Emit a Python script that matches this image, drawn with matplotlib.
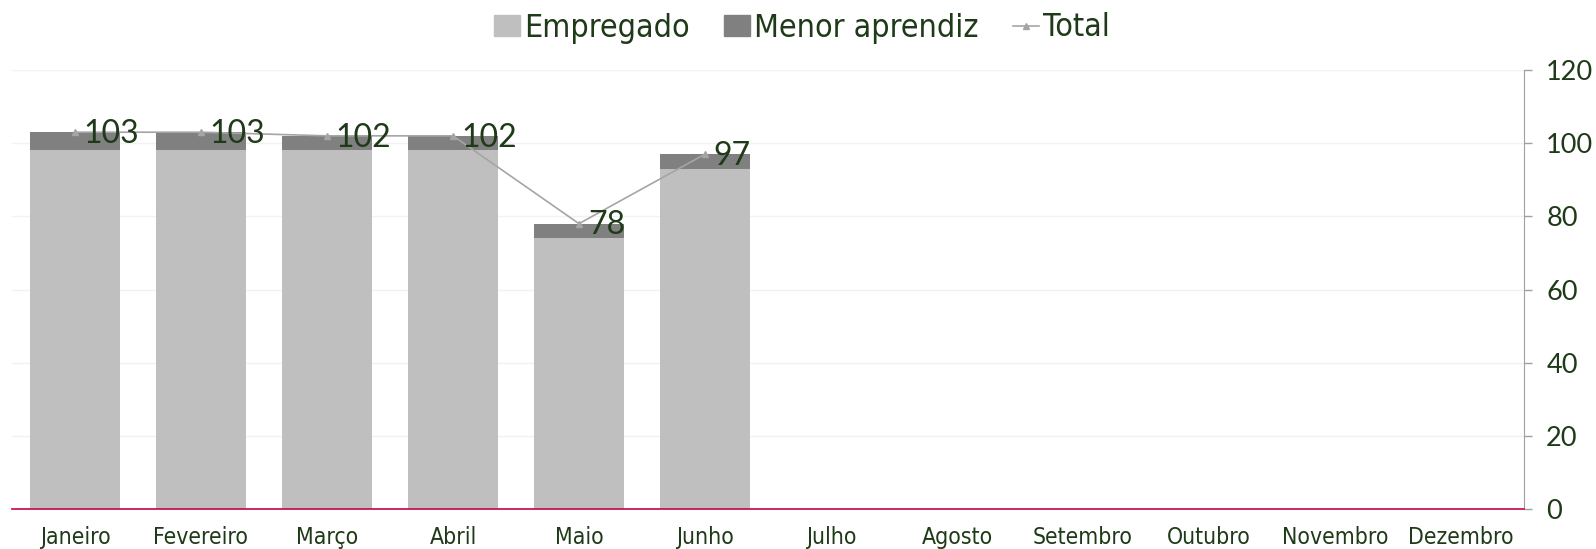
import matplotlib
matplotlib.use("Agg")
import matplotlib.pyplot as plt
from matplotlib.lines import Line2D
from matplotlib.patches import Patch
from matplotlib.font_manager import FontProperties
import numpy as np

months = ["Janeiro", "Fevereiro", "Março", "Abril", "Maio", "Junho",
          "Julho", "Agosto", "Setembro", "Outubro", "Novembro", "Dezembro"]
empregado = [98, 98, 98, 98, 74, 93]
menor_aprendiz = [5, 5, 4, 4, 4, 4]
total = [103, 103, 102, 102, 78, 97]
yticks = [0, 20, 40, 60, 80, 100, 120]

txt = "#1F3A18"
c_emp = "#BFBFBF"
c_men = "#808080"
c_tot = "#A5A5A5"

fig = plt.figure(figsize=(15.96, 5.49), dpi=100)
ax = fig.add_axes([12/1596, 1-509/549, (1524-12)/1596, (509-70)/549])

n = len(empregado)
x = np.arange(n)
ax.bar(x, empregado, width=0.71, color=c_emp, zorder=2)
ax.bar(x, menor_aprendiz, width=0.71, bottom=empregado, color=c_men, zorder=2)
ax.plot(x, total, color=c_tot, lw=1.2, marker="^", ms=4, zorder=3)
for xi, t in zip(x, total):
    ax.text(xi + 0.07, t - 0.5, str(t), fontsize=23, color=txt, va="center", ha="left",
            family="Lato", zorder=4)

cond_x = FontProperties(family="DejaVu Sans", stretch="condensed", size=16.5)
cond_leg = FontProperties(family="DejaVu Sans", stretch="condensed", size=23)

ax.set_xlim(-0.5, len(months) - 0.5)
ax.set_ylim(0, 120)
ax.set_xticks(np.arange(len(months)))
ax.set_xticklabels(months, color=txt, fontproperties=cond_x)
ax.tick_params(axis="x", length=0, pad=12)
ax.yaxis.tick_right()
ax.set_yticks(yticks)
ax.set_yticklabels([str(v) for v in yticks], fontsize=19.5, color=txt, family="Lato")
ax.tick_params(axis="y", length=6, color="#A0A0A0", pad=10, width=1)
ax.grid(axis="y", color="#F2F2F2", lw=1, zorder=0)
for s in ["top", "left"]:
    ax.spines[s].set_visible(False)
ax.spines["right"].set_color("#A0A0A0")
ax.spines["bottom"].set_color("#C8004B")
ax.spines["bottom"].set_linewidth(1.2)

handles = [Patch(color=c_emp, label="Empregado"),
           Patch(color=c_men, label="Menor aprendiz"),
           Line2D([0], [0], color=c_tot, marker="^", ms=4, lw=1.2, label="Total")]
leg = fig.legend(handles=handles, loc="center", bbox_to_anchor=(802/1596, 1-28/549),
                 ncol=3, frameon=False, handlelength=0.8, handleheight=0.65,
                 handletextpad=0.12, columnspacing=1.1, prop=cond_leg)
for t in leg.get_texts():
    t.set_color(txt)

fig.savefig("out.png", dpi=100)
